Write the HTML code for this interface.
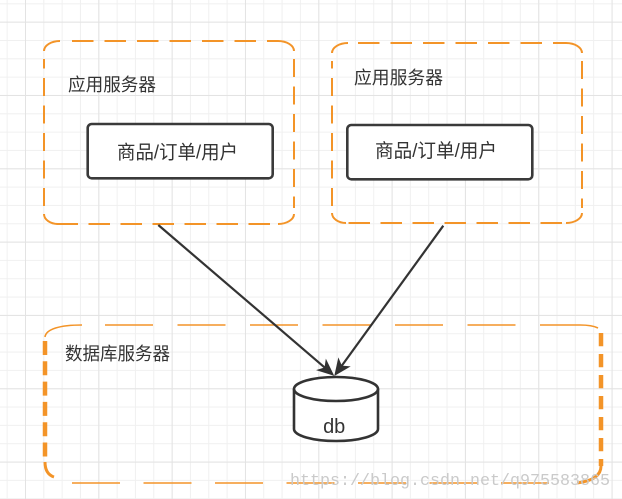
<!DOCTYPE html>
<html>
<head>
<meta charset="utf-8">
<style>
  html, body { margin: 0; padding: 0; }
  body {
    width: 622px; height: 499px; overflow: hidden; position: relative;
    background-color: #ffffff;
    background-image:
      linear-gradient(to right, #e3e3e3 1px, transparent 1px),
      linear-gradient(to bottom, #e3e3e3 1px, transparent 1px),
      linear-gradient(to right, #f0f0f0 1px, transparent 1px),
      linear-gradient(to bottom, #f0f0f0 1px, transparent 1px);
    background-size: 73.333px 73.333px, 73.333px 73.333px, 18.333px 18.333px, 18.333px 18.333px;
    background-position: 25px 0, 0 21.667px, 6.667px 0, 0 3.333px;
  }
  svg { position: absolute; left: 0; top: 0; }
  .t { font-family: "Liberation Sans", "Noto Sans CJK SC", sans-serif; fill: #333333; }
</style>
</head>
<body>
<svg width="622" height="499" viewBox="0 0 622 499" xmlns="http://www.w3.org/2000/svg">
  <g fill="none" stroke="#f39428" stroke-width="2" stroke-linecap="butt">
    <!-- Box 1 -->
    <path d="M44,51 A16,10 0 0 1 60,41"/>
    <line x1="72" y1="41" x2="278" y2="41" stroke-dasharray="21.5 11"/>
    <path d="M278,41 A16,10 0 0 1 294,51"/>
    <line x1="294" y1="59" x2="294" y2="208" stroke-dasharray="18 9.5"/>
    <path d="M294,214 A16,10 0 0 1 278,224"/>
    <line x1="270" y1="224" x2="56" y2="224" stroke-dasharray="21.5 10.5"/>
    <path d="M58,224 A14,10 0 0 1 44,214"/>
    <line x1="44" y1="206" x2="44" y2="59" stroke-dasharray="18 9.5"/>

    <!-- Box 2 -->
    <path d="M332,53 A16,10 0 0 1 348,43"/>
    <line x1="358" y1="43" x2="566" y2="43" stroke-dasharray="21.5 11"/>
    <path d="M566,43 A16,10 0 0 1 582,53"/>
    <line x1="582" y1="61" x2="582" y2="208" stroke-dasharray="18 9.5"/>
    <path d="M582,213 A16,10 0 0 1 566,223"/>
    <line x1="562" y1="223" x2="346" y2="223" stroke-dasharray="21.5 10.5"/>
    <path d="M346,223 A14,10 0 0 1 332,213"/>
    <line x1="332" y1="206" x2="332" y2="61" stroke-dasharray="18 9.5"/>

    <!-- Bottom box -->
    <path d="M45,337 C46,329 60,325 82,325" stroke-width="1.6"/>
    <line x1="105" y1="325" x2="570" y2="325" stroke-width="1.6" stroke-dasharray="48 24.5"/>
    <path d="M570,325 L580,325 Q592,325 598,328" stroke-width="1.6"/>
    <line x1="601" y1="333" x2="601" y2="466" stroke-width="4.5" stroke-dasharray="13.3 7.7"/>
    <path d="M601,466 Q601,480 577,483" stroke-width="3"/>
    <line x1="72" y1="483" x2="555" y2="483" stroke-width="1.6" stroke-dasharray="48 23.5"/>
    <line x1="45" y1="341" x2="45" y2="462" stroke-width="4.5" stroke-dasharray="14 6.3"/>
    <path d="M45,462 Q45,474 54,477" stroke-width="3"/>
  </g>

  <!-- Inner boxes -->
  <rect x="87.7" y="124" width="185" height="54.3" rx="4" ry="4" fill="#ffffff" stroke="#3a3a3a" stroke-width="2.6"/>
  <rect x="347.3" y="125" width="185" height="54.3" rx="4" ry="4" fill="#ffffff" stroke="#3a3a3a" stroke-width="2.6"/>

  <!-- Arrows -->
  <g stroke="#333333" stroke-width="2.2" fill="none">
    <line x1="158.3" y1="225" x2="325" y2="367.8"/>
    <line x1="443.3" y1="225.7" x2="341.5" y2="366.1"/>
  </g>
  <g fill="#333333" stroke="#333333" stroke-width="1" stroke-linejoin="miter">
    <path d="M333.3,375 L317.7,370.1 L325,367.8 L326.1,360.3 Z"/>
    <path d="M335,375 L338.5,359.0 L341.5,366.1 L349.1,366.7 Z"/>
  </g>

  <!-- Cylinder -->
  <path d="M294,389 A42,12 0 0 1 378,389 L378,429 A42,12 0 0 1 294,429 Z" fill="#ffffff" stroke="#333333" stroke-width="2.6"/>
  <path d="M294,389 A42,12 0 0 0 378,389" fill="none" stroke="#333333" stroke-width="2.6"/>

  <!-- Labels -->
  <text class="t" x="68" y="90.8" font-size="18" textLength="88" lengthAdjust="spacingAndGlyphs">应用服务器</text>
  <text class="t" x="354" y="83.8" font-size="18" textLength="89" lengthAdjust="spacingAndGlyphs">应用服务器</text>
  <text class="t" x="117" y="158.7" font-size="19" textLength="121" lengthAdjust="spacingAndGlyphs">商品/订单/用户</text>
  <text class="t" x="375" y="157.2" font-size="19" textLength="122" lengthAdjust="spacingAndGlyphs">商品/订单/用户</text>
  <text class="t" x="65" y="359.8" font-size="18" textLength="105" lengthAdjust="spacingAndGlyphs">数据库服务器</text>
  <text class="t" x="334.2" y="433" font-size="20" text-anchor="middle">db</text>

  <!-- Watermark -->
  <text x="290" y="485" font-family="'Liberation Mono', monospace" font-size="17" fill="#cacaca" textLength="320" lengthAdjust="spacingAndGlyphs">https://blog.csdn.net/q975583865</text>
</svg>
</body>
</html>
